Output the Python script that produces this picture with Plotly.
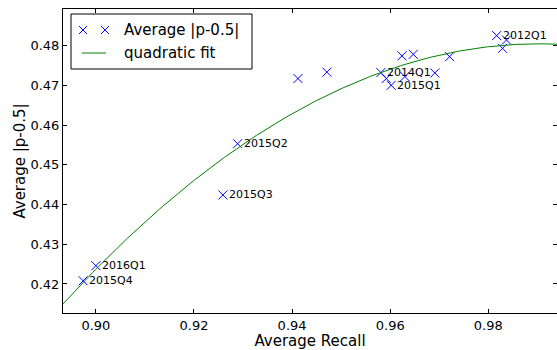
import numpy as np
import plotly.graph_objects as go

# ---- data ----
recall = [0.9412, 0.9471, 0.9581, 0.9592, 0.9602, 0.9624, 0.9647, 0.9630,
          0.9691, 0.9721, 0.9817, 0.9837, 0.9829, 0.9289, 0.9259, 0.9000, 0.8974]
avg_p = [0.4717, 0.4733, 0.4732, 0.4717, 0.4700, 0.4774, 0.4778, 0.4722,
         0.4731, 0.4772, 0.4825, 0.4814, 0.4793, 0.4553, 0.4424, 0.4246, 0.4208]
labels = ["", "", "2014Q1", "", "2015Q1", "", "", "",
          "", "", "2012Q1", "", "", "2015Q2", "2015Q3", "2016Q1", "2015Q4"]
x_ticks = [0.90, 0.92, 0.94, 0.96, 0.98]
y_ticks = [0.42, 0.43, 0.44, 0.45, 0.46, 0.47, 0.48]

X_RANGE = [0.8933, 0.9940]
Y_RANGE = [0.4127, 0.4892]

# quadratic fit of the data
coef = np.polyfit(recall, avg_p, 2)
fit_x = np.linspace(X_RANGE[0], X_RANGE[1], 200)
fit_y = np.polyval(coef, fit_x)

FONT = "DejaVu Sans"
W, H = 557, 350
L, R, T, B = 63, 557, 9, 313


def px(x):
    return (x - L) / (R - L)


def py(y):
    return (B - y) / (B - T)


fig = go.Figure()
fig.add_trace(go.Scatter(x=recall, y=avg_p, mode="markers",
                         marker=dict(symbol="x-thin", size=9, color="blue",
                                     line=dict(color="blue", width=1)),
                         showlegend=False, hoverinfo="skip"))
fig.add_trace(go.Scatter(x=fit_x, y=fit_y, mode="lines",
                         line=dict(color="#008000", width=1),
                         showlegend=False, hoverinfo="skip"))

annotations = []
for x, y, t in zip(recall, avg_p, labels):
    if t:
        annotations.append(dict(x=x, y=y, xref="x", yref="y", text=t,
                                showarrow=False, xanchor="left", yanchor="middle",
                                xshift=4, font=dict(family=FONT, size=11, color="black")))

shapes = []
# manual legend
shapes.append(dict(type="rect", xref="paper", yref="paper",
                   x0=px(71), x1=px(252), y0=py(69), y1=py(14),
                   line=dict(color="black", width=1), fillcolor="white", layer="above"))
for mx in (83, 105):
    shapes.append(dict(type="path", xref="paper", yref="paper",
                       xsizemode="pixel", ysizemode="pixel",
                       xanchor=px(mx), yanchor=py(30),
                       path="M-4,-4 L4,4 M-4,4 L4,-4",
                       line=dict(color="blue", width=1), layer="above"))
shapes.append(dict(type="line", xref="paper", yref="paper",
                   x0=px(82), x1=px(106), y0=py(53), y1=py(53),
                   line=dict(color="#008000", width=1), layer="above"))
annotations.append(dict(x=px(122), y=py(30), xref="paper", yref="paper",
                        text="Average |p-0.5|", showarrow=False,
                        xanchor="left", yanchor="middle",
                        font=dict(family=FONT, size=15, color="black")))
annotations.append(dict(x=px(122), y=py(53), xref="paper", yref="paper",
                        text="quadratic fit", showarrow=False,
                        xanchor="left", yanchor="middle",
                        font=dict(family=FONT, size=15, color="black")))

axis_common = dict(showgrid=False, zeroline=False, showline=True, linecolor="black",
                   linewidth=1, mirror="allticks", ticks="inside", ticklen=4,
                   tickcolor="black", tickfont=dict(family=FONT, size=13, color="black"))

fig.update_layout(
    width=W, height=H,
    margin=dict(l=L, r=W - R, t=T, b=H - B),
    paper_bgcolor="white", plot_bgcolor="white",
    xaxis=dict(range=X_RANGE, tickvals=x_ticks,
               ticktext=[f"{v:.2f}" for v in x_ticks],
               title=dict(text="Average Recall", standoff=2,
                          font=dict(family=FONT, size=15, color="black")),
               **axis_common),
    yaxis=dict(range=Y_RANGE, tickvals=y_ticks,
               ticktext=[f"{v:.2f}" for v in y_ticks],
               title=dict(text="Average |p-0.5|", standoff=1,
                          font=dict(family=FONT, size=15, color="black")),
               **axis_common),
    annotations=annotations,
    shapes=shapes,
    showlegend=False,
)

fig.write_html("out.html", config={"displayModeBar": False},
               post_script="document.body.style.margin='0px';document.body.style.overflow='hidden';")
